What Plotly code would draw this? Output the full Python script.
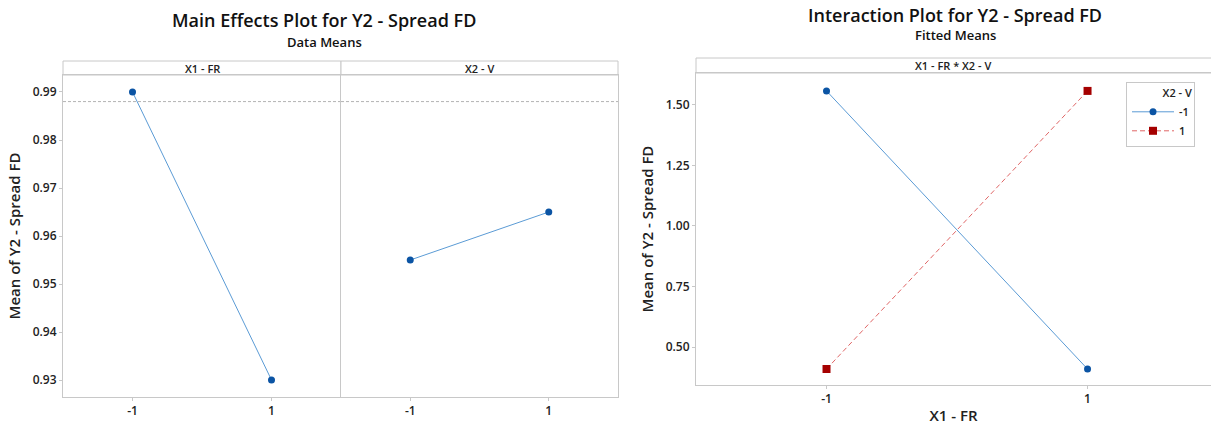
import plotly.graph_objects as go

# ---- data ----
levels = [-1, 1]
level_labels = ["-1", "1"]
x1_fr_means = [0.99, 0.93]
x2_v_means = [0.955, 0.965]
overall_ref = 0.988
inter_v_minus = [1.558, 0.409]   # X2 - V = -1
inter_v_plus = [0.409, 1.558]    # X2 - V = 1
left_yticks = [0.93, 0.94, 0.95, 0.96, 0.97, 0.98, 0.99]
right_yticks = [0.50, 0.75, 1.00, 1.25, 1.50]

W, H = 1211, 428
def px(x): return x / W
def py(y): return 1 - y / H

GRID = "#c8c8c8"
BLUE_L = "#5b9bd5"
BLUE_M = "#0b54a4"
RED_L = "#e06666"
RED_M = "#a50000"
FONT = "Open Sans"

fig = go.Figure()

# left panel X1
fig.add_trace(go.Scatter(x=levels, y=x1_fr_means, mode="lines+markers",
                         line=dict(color=BLUE_L, width=1),
                         marker=dict(color=BLUE_M, size=7, symbol="circle"),
                         xaxis="x", yaxis="y", showlegend=False))
# left panel X2
fig.add_trace(go.Scatter(x=levels, y=x2_v_means, mode="lines+markers",
                         line=dict(color=BLUE_L, width=1),
                         marker=dict(color=BLUE_M, size=7, symbol="circle"),
                         xaxis="x2", yaxis="y2", showlegend=False))
# reference lines
for xa, ya in (("x", "y"), ("x2", "y2")):
    fig.add_trace(go.Scatter(x=[-2, 2], y=[overall_ref, overall_ref], mode="lines",
                             line=dict(color="#b4b4b4", width=1, dash="3px,2px"),
                             xaxis=xa, yaxis=ya, showlegend=False, hoverinfo="skip"))
# interaction
fig.add_trace(go.Scatter(x=levels, y=inter_v_minus, mode="lines+markers", name="-1",
                         line=dict(color=BLUE_L, width=1),
                         marker=dict(color=BLUE_M, size=7, symbol="circle"),
                         xaxis="x3", yaxis="y3"))
fig.add_trace(go.Scatter(x=levels, y=inter_v_plus, mode="lines+markers", name="1",
                         line=dict(color=RED_L, width=1, dash="5px,3px"),
                         marker=dict(color=RED_M, size=8, symbol="square"),
                         xaxis="x3", yaxis="y3"))

tickfont = dict(family=FONT, size=12, color="#222", weight=600)
axis_common = dict(showline=True, linecolor=GRID, linewidth=1,
                   showgrid=False, zeroline=False, ticks="outside", ticklen=3,
                   tickcolor=GRID, tickfont=tickfont)

ldom_y = [py(397), py(75)]
rdom_y = [py(385), py(73)]

fig.update_layout(
    width=W, height=H, margin=dict(l=0, r=0, t=0, b=0),
    paper_bgcolor="white", plot_bgcolor="white",
    font=dict(family=FONT, color="#222"),
    xaxis=dict(domain=[px(63), px(341)], range=[-2, 2], tickvals=levels,
               ticktext=level_labels, anchor="y", mirror=True, **axis_common),
    xaxis2=dict(domain=[px(341), px(618)], range=[-2, 2], tickvals=levels,
                ticktext=level_labels, anchor="y2", mirror=True, **axis_common),
    yaxis=dict(domain=ldom_y, range=[0.92646, 0.99354], tickvals=left_yticks,
               tickformat=".2f", anchor="x", mirror=False,
               title=dict(text="Mean of Y2 - Spread FD", standoff=8,
                          font=dict(family=FONT, size=15, color="#222", weight=600)),
               **axis_common),
    yaxis2=dict(domain=ldom_y, range=[0.92646, 0.99354], anchor="x2",
                showticklabels=False, mirror=True,
                **{k: v for k, v in axis_common.items() if k != "ticks"},
                ticks=""),
    xaxis3=dict(domain=[px(696), 1.0], range=[-2, 1.946], tickvals=levels,
                ticktext=level_labels, anchor="y3", mirror=True,
                title=dict(text="X1 - FR", standoff=4,
                           font=dict(family=FONT, size=15, color="#222", weight=600)),
                **axis_common),
    yaxis3=dict(domain=rdom_y, range=[0.343, 1.632], tickvals=right_yticks,
                tickformat=".2f", anchor="x3", mirror=False,
                title=dict(text="Mean of Y2 - Spread FD", standoff=8,
                           font=dict(family=FONT, size=15, color="#222", weight=600)),
                **axis_common),
    legend=dict(x=px(1126), y=py(82), xanchor="left", yanchor="top",
                bordercolor=GRID, borderwidth=1, bgcolor="white",
                font=dict(family=FONT, size=11, color="#222", weight=600),
                title=dict(text="X2 - V", side="top right",
                           font=dict(family=FONT, size=11, color="#222", weight=600)),
                tracegroupgap=0, itemwidth=42),
)

# strips
strips = [
    (63, 341, 61, 75, "X1 - FR"),
    (341, 618, 61, 75, "X2 - V"),
    (696, 1215, 58, 73, "X1 - FR * X2 - V"),
]
for x0, x1, y0, y1, label in strips:
    fig.add_shape(type="rect", xref="paper", yref="paper",
                  x0=px(x0), x1=px(x1), y0=py(y1), y1=py(y0),
                  line=dict(color=GRID, width=1), fillcolor="white", layer="below")
    cx = (x0 + x1) / 2 if label != "X1 - FR * X2 - V" else 953
    fig.add_annotation(x=px(cx), y=py((y0 + y1) / 2), xref="paper", yref="paper",
                       text=label, showarrow=False, xanchor="center", yanchor="middle",
                       font=dict(family=FONT, size=11, color="#222", weight=600))

# titles
titles = [
    (324, 20, "Main Effects Plot for Y2 - Spread FD", 18),
    (324, 42, "Data Means", 13),
    (955, 15, "Interaction Plot for Y2 - Spread FD", 18),
    (955, 35, "Fitted Means", 13),
]
for x, y, t, s in titles:
    fig.add_annotation(x=px(x), y=py(y), xref="paper", yref="paper", text=t,
                       showarrow=False, xanchor="center", yanchor="middle",
                       font=dict(family=FONT, size=s, color="#111", weight=600))

fig.write_html("out.html", config={"displayModeBar": False},
               post_script="document.body.style.margin='0';document.body.style.overflow='hidden';")
